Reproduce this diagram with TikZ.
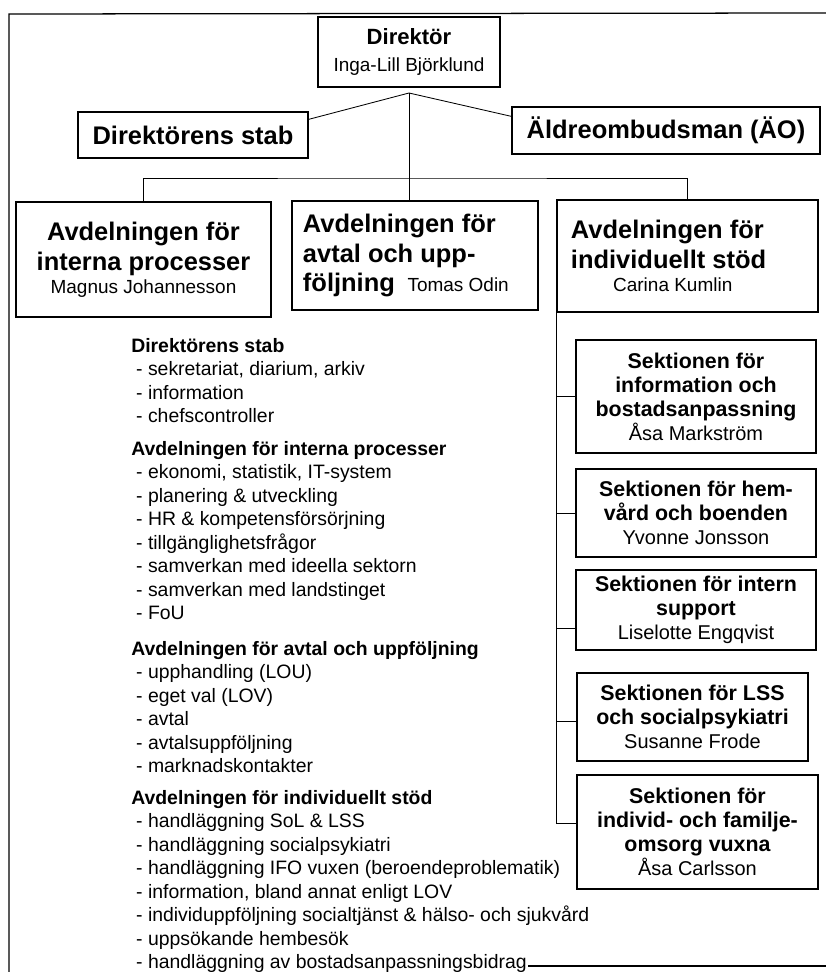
\documentclass[tikz,border=0pt]{standalone}
\usepackage{fontspec}
\setmainfont{Liberation Sans}
\usetikzlibrary{calc,positioning}
\tikzset{>=latex}
% font sizes, 1 unit of the picture = 0.025cm
\newcommand{\fDir}{\fontsize{15.7}{19.2}\selectfont\bfseries}
\newcommand{\fName}{\fontsize{13.5}{16}\selectfont\mdseries}
\newcommand{\fBig}{\fontsize{18.1}{21.3}\selectfont\bfseries}
\newcommand{\fSek}{\fontsize{15.2}{17.1}\selectfont\bfseries}
\newcommand{\fSekName}{\fontsize{14.2}{17.1}\selectfont\mdseries}
\newcommand{\fList}{\fontsize{13.8}{16.7}\selectfont}
\newcommand{\punkt}{\hspace*{3.5pt}- }

\begin{document}
\begin{tikzpicture}[x=0.025cm,y=-0.025cm,
  box/.style={draw,line width=0.9pt,inner sep=0pt,align=center},
  link/.style={line width=0.6pt},
  lst/.style={anchor=north west,inner sep=0pt,align=left,font=\fList}]
\useasboundingbox (0,0) rectangle (826,972);

% ram
\draw[line width=0.9pt] (9,972) -- (9,14) -- (826,13);
\draw[line width=0.9pt] (528,966) -- (826,966);

% ledning
\node[box,minimum width=4.55cm,minimum height=1.75cm,font=\fDir] (dir) at (409,52)
  {Direktör\\{\fName Inga-Lill Björklund}};
\node[box,minimum width=5.75cm,minimum height=1.15cm,font=\fBig] (stab) at (193,135) {Direktörens stab};
\node[box,minimum width=7.7cm,minimum height=1.175cm,font=\fBig] (ao) at (666,130.5) {Äldreombudsman (ÄO)};

% avdelningar
\node[box,minimum width=6.375cm,minimum height=2.875cm,font=\fBig] (d1) at (143.5,259.5)
  {Avdelningen för\\interna processer\\[-5pt]{\fName Magnus Johannesson}};
\node[box,align=flush left,text width=5.6cm,inner xsep=0.275cm,minimum height=2.725cm,font=\fBig] (d2) at (415,255.5)
  {Avdelningen för\\avtal och upp-\\följning\hspace{9pt}{\fName Tomas Odin}};
\node[box,align=flush left,text width=5.825cm,inner xsep=0.35cm,minimum height=2.8cm,font=\fBig] (d3) at (687.5,256)
  {Avdelningen för\\individuellt stöd\\[-5pt]\hspace*{30pt}{\fName Carina Kumlin}};

% sektioner
\node[box,minimum width=6cm,minimum height=2.825cm,font=\fSek] (s1) at (696,396.5)
  {Sektionen för\\information och\\bostadsanpassning\\{\fSekName Åsa Markström}};
\node[box,minimum width=6cm,minimum height=2.2cm,font=\fSek] (s2) at (696,513)
  {Sektionen för hem-\\vård och boenden\\{\fSekName Yvonne Jonsson}};
\node[box,minimum width=6cm,minimum height=2cm,font=\fSek] (s3) at (696,610)
  {Sektionen för intern\\support\\{\fSekName Liselotte Engqvist}};
\node[box,minimum width=5.775cm,minimum height=2.2cm,font=\fSek] (s4) at (692.5,717)
  {Sektionen för LSS\\och socialpsykiatri\\{\fSekName Susanne Frode}};
\node[box,minimum width=6.025cm,minimum height=2.85cm,font=\fSek] (s5) at (697.5,832)
  {Sektionen för\\individ- och familje-\\omsorg vuxna\\{\fSekName Åsa Carlsson}};

% linjer
\coordinate (jn) at (409,93);
\coordinate (bus) at (409,178);
\draw[link] ($(stab.north east)+(0,8)$) -- (jn) -- ($(ao.north west)+(0,10)$);
\draw[link] (jn) -- (jn |- d2.north);
\draw[link] (d1.north) |- (bus) -| (d3.north);
\foreach \s/\dy in {s1/0,s2/0,s3/18,s4/4,s5/-9}
  \draw[link] (d3.south west) |- ($(\s.west)+(0,\dy)$);

% uppgifter
\node[lst] (l1) at (131,338) {\textbf{Direktörens stab}\\
  \punkt sekretariat, diarium, arkiv\\
  \punkt information\\
  \punkt chefscontroller};
\node[lst] (l2) at (131,441) {\textbf{Avdelningen för interna processer}\\
  \punkt ekonomi, statistik, IT-system\\
  \punkt planering \& utveckling\\
  \punkt HR \& kompetensförsörjning\\
  \punkt tillgänglighetsfrågor\\
  \punkt samverkan med ideella sektorn\\
  \punkt samverkan med landstinget\\
  \punkt FoU};
\node[lst] (l3) at (131,641) {\textbf{Avdelningen för avtal och uppföljning}\\
  \punkt upphandling (LOU)\\
  \punkt eget val (LOV)\\
  \punkt avtal\\
  \punkt avtalsuppföljning\\
  \punkt marknadskontakter};
\node[lst] (l4) at (131,790) {\textbf{Avdelningen för individuellt stöd}\\
  \punkt handläggning SoL \& LSS\\
  \punkt handläggning socialpsykiatri\\
  \punkt handläggning IFO vuxen (beroendeproblematik)\\
  \punkt information, bland annat enligt LOV\\
  \punkt individuppföljning socialtjänst \& hälso- och sjukvård\\
  \punkt uppsökande hembesök\\
  \punkt handläggning av bostadsanpassningsbidrag};
\end{tikzpicture}
\end{document}
